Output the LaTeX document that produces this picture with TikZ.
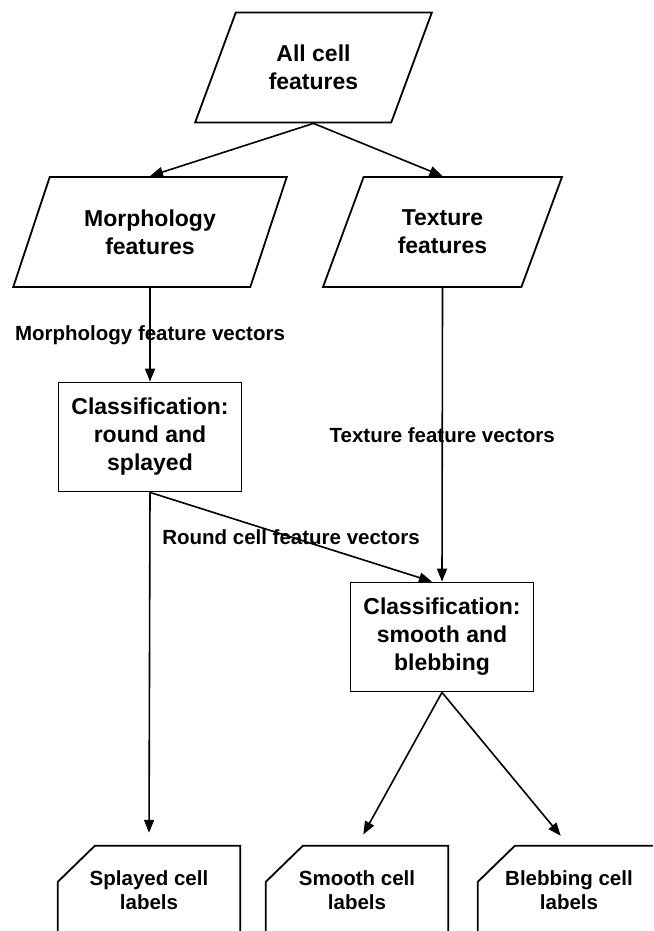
\documentclass[tikz,border=0pt]{standalone}
\usepackage{fontspec}
\setmainfont{Liberation Sans}
\usetikzlibrary{arrows.meta,shapes.geometric}

\begin{document}
\begin{tikzpicture}[x=1pt,y=-1pt]
\tikzset{data/.style = {trapezium,trapezium left angle=64,trapezium right angle=116,trapezium stretches=true,draw,line width=1.8pt,minimum height=110pt,align=center,font=\bfseries\fontsize{23}{28}\selectfont}}
\tikzset{process/.style = {rectangle,draw,line width=1.8pt,minimum width=183pt,minimum height=109pt,align=center,font=\bfseries\fontsize{23}{28}\selectfont}}
\tikzset{card/.style = {rectangle,minimum width=182pt,minimum height=88pt,align=center,font=\bfseries\fontsize{20.5}{24}\selectfont}}
\tikzset{cardline/.style = {draw,line width=1.8pt,line join=miter}}
\tikzset{edge/.style = {-{Triangle[length=13pt,width=10pt]},line width=1.6pt}}
\tikzset{elabel/.style = {font=\bfseries\fontsize{20.5}{24}\selectfont}}
\useasboundingbox (0,0) rectangle (653,931);
\clip (0,0) rectangle (653,931);
\node[data,minimum width=237pt] (all) at (313.5,67.5) {All cell\\features};
\node[data,minimum width=274pt] (morph) at (150,232) {Morphology\\features};
\node[data,minimum width=239pt] (tex) at (442.5,232) {Texture\\features};
\node[process] (cls1) at (150,437) {Classification:\\round and\\splayed};
\node[process] (cls2) at (442,637) {Classification:\\smooth and\\blebbing};
\node[card] (splay) at (149,890) {Splayed cell\\labels};
\node[card] (smooth) at (357,890) {Smooth cell\\labels};
\node[card] (bleb) at (569,890) {Blebbing cell\\labels};
% label cards: top left corner cut off
\foreach \c in {splay,smooth,bleb}
  \draw[cardline] ([yshift=-36pt]\c.north west) -- ([xshift=37pt]\c.north west) -- (\c.north east) -- (\c.south east) -- (\c.south west) -- cycle;
\draw[edge] (all.south) to (morph.north);
\draw[edge] (all.south) to (tex.north);
\draw[edge] (morph.south) to node[elabel] {Morphology feature vectors} (cls1.north);
\draw[edge] (tex.south) to node[elabel] {Texture feature vectors} (cls2.north);
\draw[edge] (cls1.south) to node[elabel] {Round cell feature vectors} ([xshift=-10pt]cls2.north);
\draw[edge,shorten >=13pt] (cls1.south) to (splay.north);
\draw[edge,shorten >=13pt] (cls2.south) to (smooth.north);
\draw[edge,shorten >=13pt] (cls2.south) to (bleb.north);
\end{tikzpicture}
\end{document}
